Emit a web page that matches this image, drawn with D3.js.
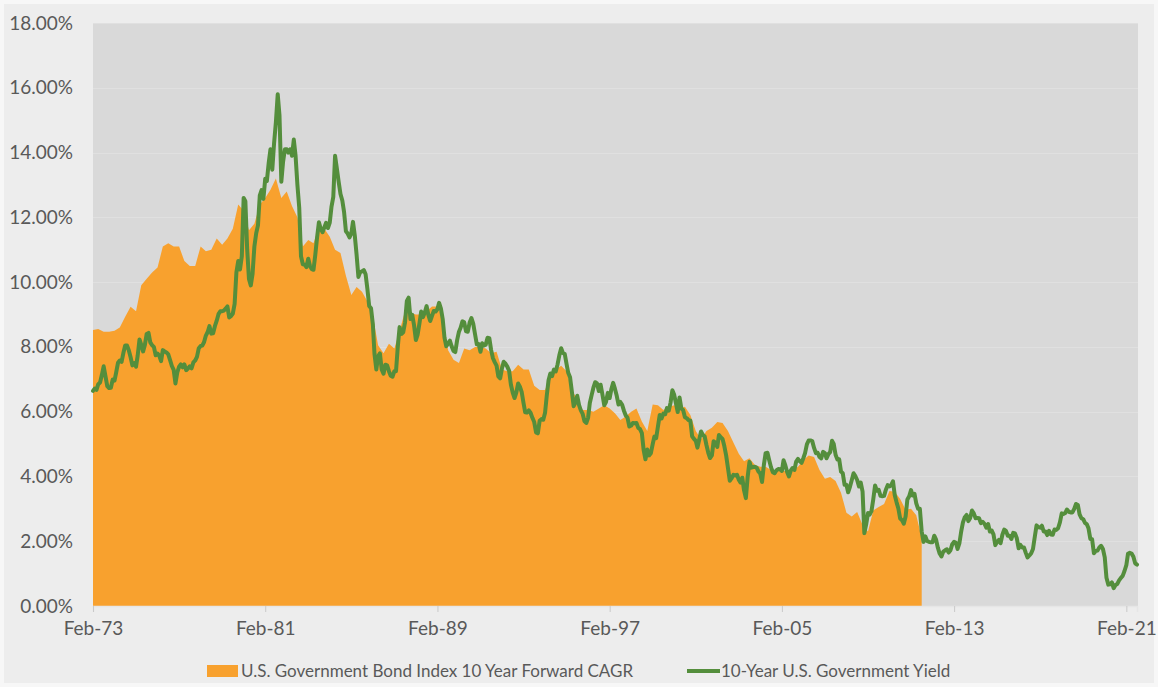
<!DOCTYPE html>
<html><head><meta charset="utf-8">
<script src="https://cdn.jsdelivr.net/npm/d3@7/dist/d3.min.js"></script>
<style>
html,body{margin:0;padding:0;background:#f7f7f7;}
svg{display:block;}
text{font-family:Lato,"Noto Sans",sans-serif;fill:#595959;}
</style></head><body>
<svg id="chart" width="1158" height="687"></svg>
<script>
// ---- DATA ----
// 10-Year U.S. Government Yield (%), monthly, starting Feb-1973
const yield1970s = [
  6.64,6.71,6.67,6.85,6.90,7.13,7.40,7.09,6.79,6.73,6.74,
  6.99,6.96,7.21,7.51,7.58,7.54,7.81,8.04,8.04,7.90,7.68,7.43,
  7.50,7.39,7.73,8.23,8.06,7.86,8.06,8.40,8.43,8.14,8.05,8.00,
  7.74,7.79,7.73,7.56,7.90,7.86,7.83,7.77,7.59,7.41,7.29,6.87,
  7.21,7.39,7.46,7.37,7.46,7.28,7.33,7.40,7.34,7.52,7.58,7.69,
  7.96,8.03,8.04,8.15,8.35,8.46,8.64,8.41,8.42,8.64,8.81,9.01,
  9.10,9.10,9.12,9.18,9.25,8.91,8.95,9.03,9.33,10.30,10.65,10.39
];
const yield1980s = [
  10.80,12.60,12.50,11.00,10.10,9.90,10.25,11.10,11.51,11.75,12.68,12.84,
  12.57,13.19,13.12,13.68,14.10,13.47,14.28,14.94,15.80,15.15,13.10,13.72,
  14.10,14.10,14.00,14.10,13.90,14.40,13.90,13.00,12.30,10.80,10.55,10.54,
  10.46,10.72,10.51,10.40,10.38,10.85,11.38,11.85,11.65,11.54,11.69,11.83,
  11.67,11.84,12.32,12.63,13.90,13.50,13.10,12.72,12.52,12.16,11.57,11.50,
  11.38,11.51,11.86,11.43,10.85,10.16,10.31,10.33,10.37,10.24,9.78,9.26,
  9.19,8.70,7.78,7.30,7.71,7.80,7.30,7.17,7.45,7.43,7.25,7.11,
  7.08,7.25,7.25,8.02,8.61,8.40,8.45,8.76,9.42,9.52,8.86,8.99,
  8.67,8.21,8.37,8.72,9.09,8.92,9.06,9.26,8.98,8.80,8.96,9.11,
  9.09,9.17,9.36,9.18,8.86,8.28,8.02,8.11,8.19,8.01,7.87,7.84
];
const yield1990s = [
  8.21,8.47,8.59,8.79,8.76,8.48,8.47,8.75,8.89,8.72,8.39,8.08,
  8.09,7.85,8.11,8.04,8.07,8.28,8.27,7.90,7.65,7.53,7.42,7.09,
  7.03,7.34,7.54,7.48,7.39,7.26,6.84,6.59,6.42,6.59,6.87,6.77,
  6.60,6.26,5.98,5.97,6.04,5.96,5.81,5.68,5.36,5.33,5.72,5.77,
  5.75,5.97,6.48,6.97,7.18,7.10,7.30,7.24,7.46,7.74,7.96,7.81,
  7.78,7.47,7.20,7.06,6.63,6.17,6.28,6.49,6.20,6.04,5.93,5.71,
  5.65,5.81,6.27,6.51,6.74,6.91,6.87,6.64,6.83,6.53,6.20,6.30,
  6.58,6.42,6.69,6.89,6.71,6.49,6.22,6.30,6.21,6.03,5.88,5.81,
  5.54,5.57,5.65,5.64,5.65,5.50,5.46,5.34,4.81,4.53,4.83,4.65,
  4.72,5.00,5.23,5.18,5.54,5.90,5.79,5.94,5.92,6.11,6.03,6.28
];
const yield2000s = [
  6.66,6.52,6.26,5.99,6.44,6.10,6.05,5.83,5.80,5.74,5.72,5.24,
  5.16,5.10,4.89,5.14,5.39,5.28,5.24,4.97,4.73,4.57,4.65,5.09,
  5.04,4.91,5.28,5.21,5.16,4.93,4.65,4.26,3.87,3.94,4.05,4.03,
  4.05,3.90,3.81,3.96,3.57,3.33,3.98,4.45,4.27,4.29,4.30,4.27,
  4.15,4.08,3.83,4.35,4.72,4.73,4.50,4.28,4.13,4.10,4.19,4.23,
  4.22,4.17,4.50,4.34,4.14,4.00,4.18,4.26,4.20,4.46,4.54,4.47,
  4.42,4.57,4.72,4.99,5.11,5.11,5.09,4.88,4.72,4.73,4.60,4.56,
  4.76,4.72,4.56,4.69,4.75,5.10,5.00,4.67,4.52,4.53,4.15,4.10,
  3.74,3.74,3.51,3.68,3.88,4.10,4.01,3.89,3.69,3.81,3.53,2.25,
  2.52,2.87,2.82,2.93,3.29,3.72,3.56,3.59,3.40,3.39,3.40,3.59
];
const yield2010s = [
  3.73,3.69,3.73,3.85,3.42,3.20,3.01,2.70,2.65,2.54,2.76,3.29,
  3.39,3.58,3.41,3.46,3.17,3.00,3.00,2.30,1.98,2.15,2.01,1.98,
  1.97,1.97,2.17,2.05,1.80,1.62,1.53,1.68,1.72,1.75,1.65,1.72,
  1.91,1.98,1.96,1.76,1.93,2.30,2.58,2.74,2.81,2.62,2.72,2.95,
  2.86,2.71,2.72,2.71,2.56,2.60,2.54,2.42,2.53,2.30,2.33,2.21,
  1.88,1.98,2.04,1.94,2.20,2.36,2.32,2.17,2.17,2.07,2.26,2.24,
  2.09,1.78,1.89,1.81,1.81,1.64,1.50,1.56,1.63,1.76,2.14,2.49,
  2.43,2.42,2.48,2.30,2.30,2.19,2.32,2.21,2.20,2.36,2.35,2.40,
  2.58,2.86,2.84,2.87,2.98,2.91,2.89,2.89,3.00,3.15,3.12,2.83,
  2.71,2.68,2.57,2.53,2.40,2.07,2.06,1.63,1.70,1.71,1.81,1.86
];
const yield2020s = [
  1.76,1.50,0.87,0.66,0.67,0.73,0.55,0.65,0.68,0.79,0.87,0.93,
  1.08,1.26,1.61,1.64,1.62,1.52,1.32,1.28
];

// U.S. Government Bond Index 10 Year Forward CAGR (%), quarterly (Feb/May/Aug/Nov), starting Feb-1973
const cagr1970s = [
  8.52,8.55,8.47,8.47, 8.50,8.60,8.93,9.24, 9.10,9.90,10.10,10.30,
  10.45,11.10,11.20,11.10, 11.10,10.65,10.50,10.50, 11.10,10.95,11.00,11.35,
  11.15,11.35,11.65,12.40
];
const cagr1980s = [
  12.20,11.60,11.80,12.40, 12.60,12.85,13.20,12.60, 12.80,12.35,12.00,11.10,
  11.30,11.20,11.70,11.65, 11.40,11.00,10.90,10.20, 9.60,9.85,9.70,9.40,
  8.95,8.05,7.80,8.10, 7.95,8.50,9.10,9.05, 9.00,9.00,9.10,9.25,
  9.25,8.90,7.90,7.60
];
const cagr1990s = [
  7.50,7.95,7.90,8.00, 8.00,7.95,7.80,7.85, 7.30,7.25,7.25,7.45,
  7.30,7.30,6.80,6.67, 6.67,7.10,7.30,7.42, 7.25,6.65,6.40,6.05,
  6.05,6.00,6.10,6.20, 6.10,5.95,5.74,5.85, 6.00,6.10,5.70,5.40,
  6.22,6.20,6.05,6.15
];
const cagr2000s = [
  6.20,6.10,6.15,5.90, 5.40,5.15,5.40,5.50, 5.68,5.65,5.40,5.05,
  4.70,4.47,4.56,4.35, 4.30,4.30,4.20,4.20, 4.17,4.17,4.20,4.30,
  4.51,4.65,4.60,4.20, 3.93,3.98,3.86,3.50, 2.88,2.76,2.90,2.50,
  2.30,2.95,3.06,3.15
];
const cagr2010s = [
  3.55,3.53,3.30,2.97, 3.00,2.80,2.10
];

const xTickLabels = ["Feb-73","Feb-81","Feb-89","Feb-97","Feb-05","Feb-13","Feb-21"];
const yTicks = [0,2,4,6,8,10,12,14,16,18];
const seriesNames = ["U.S. Government Bond Index 10 Year Forward CAGR","10-Year U.S. Government Yield"];

// ---- BUILD ----
const start = new Date(1973,1,1);
const yieldVals = [].concat(yield1970s,yield1980s,yield1990s,yield2000s,yield2010s,yield2020s);
const cagrVals = [].concat(cagr1970s,cagr1980s,cagr1990s,cagr2000s,cagr2010s);
const yieldData = yieldVals.map((v,i)=>({date:d3.timeMonth.offset(start,i),v}));
const cagrData = cagrVals.map((v,i)=>({date:d3.timeMonth.offset(start,i*3),v}));

const orange = "#F8A12E", green = "#548E3C";
const L = 93, R = 1138, T = 23, B = 606;
const svg = d3.select("#chart");

svg.append("rect").attr("x",4).attr("y",4).attr("width",1150).attr("height",679).attr("fill","#ededed");

const x = d3.scaleTime().domain([start, yieldData[yieldData.length-1].date]).range([L, R-1]);
const y = d3.scaleLinear().domain([0,18]).range([B, T]);

svg.append("rect").attr("x",L).attr("y",T).attr("width",R-L).attr("height",B-T).attr("fill","#d9d9d9");

// gridlines
svg.append("g").selectAll("line").data(yTicks.slice(1)).join("line")
  .attr("x1",L).attr("x2",R).attr("y1",d=>Math.round(y(d))+0.5).attr("y2",d=>Math.round(y(d))+0.5)
  .attr("stroke","#e0e0e0").attr("stroke-width",1);

// area
const area = d3.area().x(d=>x(d.date)).y0(y(0)).y1(d=>y(d.v));
svg.append("path").datum(cagrData).attr("d",area).attr("fill",orange);

// line
const line = d3.line().x(d=>x(d.date)).y(d=>y(d.v));
svg.append("path").datum(yieldData).attr("d",line).attr("fill","none")
  .attr("stroke",green).attr("stroke-width",4).attr("stroke-linejoin","round").attr("stroke-linecap","round");

// x axis
const parseTick = d3.timeParse("%b-%y");
const xAxis = d3.axisBottom(x).tickValues(xTickLabels.map(parseTick)).tickSize(6).tickFormat(d3.timeFormat("%b-%y"));
const gx = svg.append("g").attr("transform",`translate(0,${B})`).call(xAxis);
gx.select(".domain").attr("stroke","#e6e6e6").attr("stroke-width",1.5);
gx.selectAll(".tick line").attr("stroke","#c9c9c9");
gx.selectAll(".tick text").attr("font-size",19).attr("dy","1.05em").attr("fill","#595959")
  .style("font-family","Lato,'Noto Sans',sans-serif");

// y axis
const yAxis = d3.axisLeft(y).tickValues(yTicks).tickSize(0).tickPadding(20).tickFormat(d=>d.toFixed(2)+"%");
const gy = svg.append("g").attr("transform",`translate(${L},0)`).call(yAxis);
gy.select(".domain").remove();
gy.selectAll(".tick text").attr("font-size",19).attr("fill","#595959")
  .style("font-family","Lato,'Noto Sans',sans-serif");

// legend
const lg = svg.append("g");
lg.append("rect").attr("x",207).attr("y",665).attr("width",31).attr("height",12).attr("fill",orange);
lg.append("text").attr("x",241).attr("y",677).attr("font-size",17).text(seriesNames[0]);
lg.append("line").attr("x1",687).attr("x2",720).attr("y1",671).attr("y2",671).attr("stroke",green).attr("stroke-width",4);
lg.append("text").attr("x",721).attr("y",677).attr("font-size",17).text(seriesNames[1]);
</script>
</body></html>
